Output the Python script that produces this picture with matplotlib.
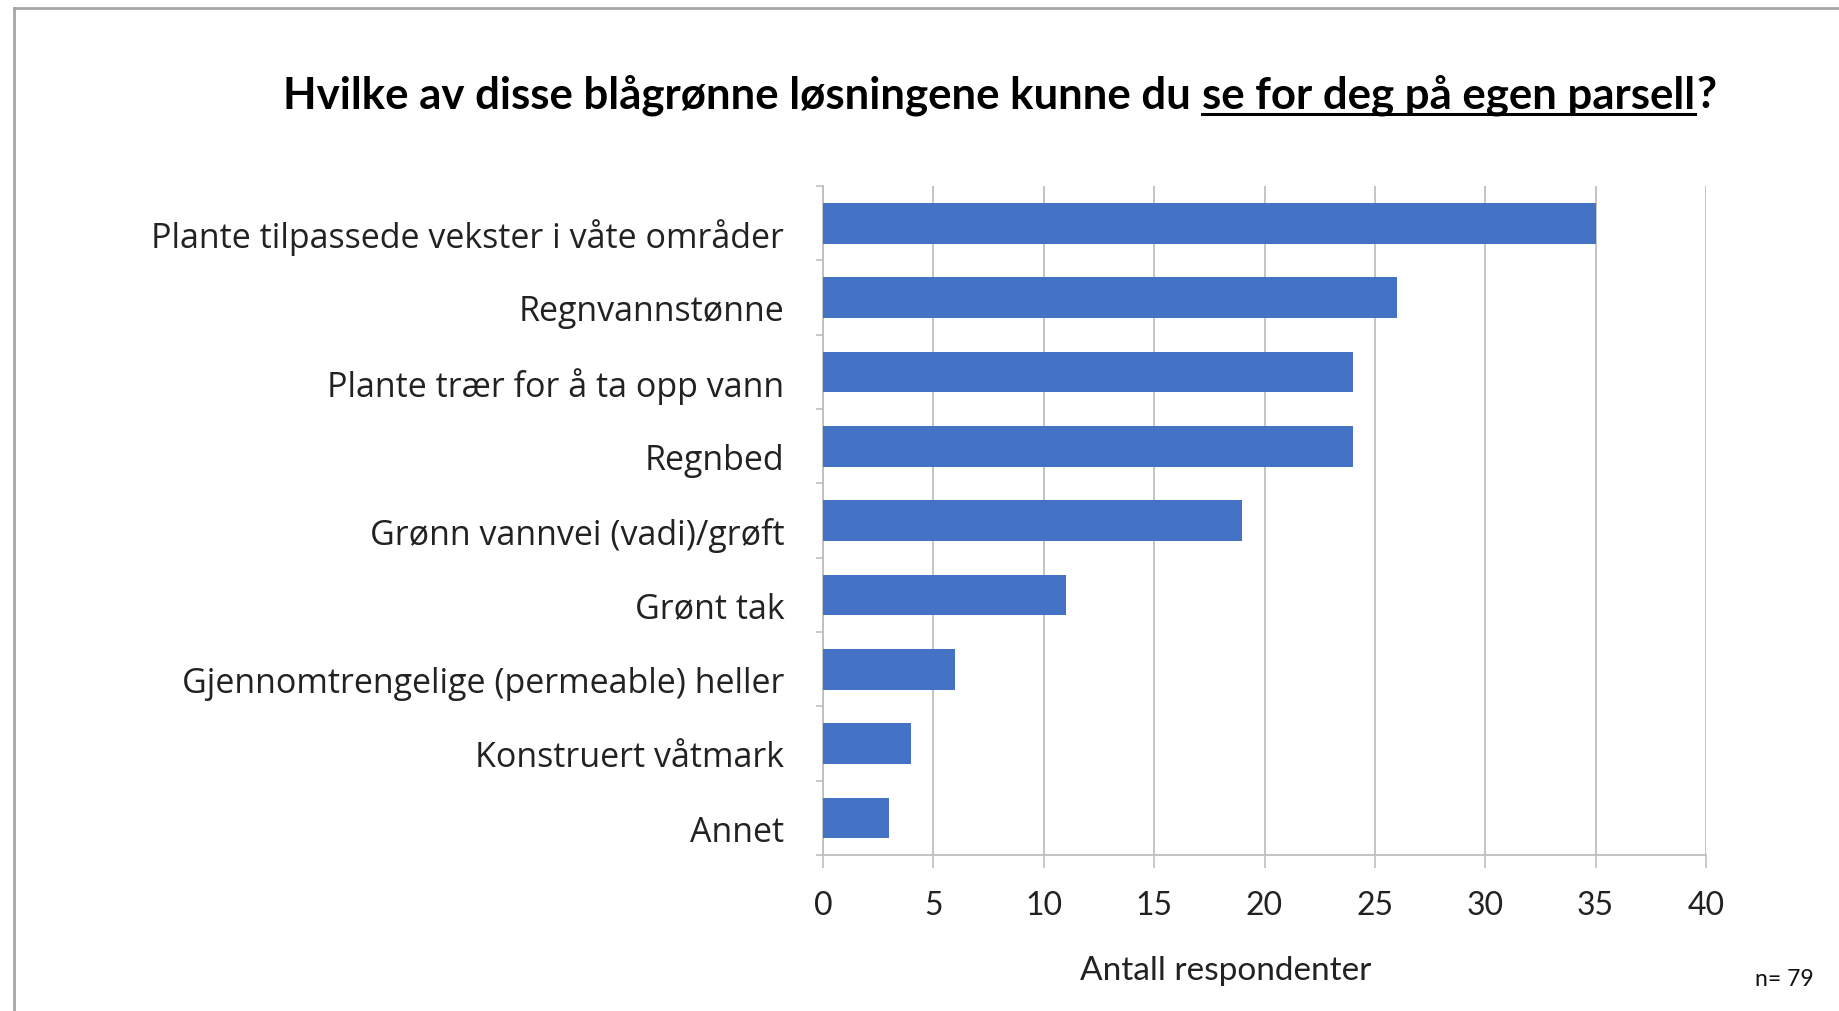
import numpy as np
import matplotlib.pyplot as plt
import matplotlib.transforms as mtransforms
from matplotlib.lines import Line2D

kategorier = ["Plante tilpassede vekster i våte områder", "Regnvannstønne",
              "Plante trær for å ta opp vann", "Regnbed",
              "Grønn vannvei (vadi)/grøft", "Grønt tak",
              "Gjennomtrengelige (permeable) heller", "Konstruert våtmark", "Annet"]
antall = [35, 26, 24, 24, 19, 11, 6, 4, 3]
x_ticks = [0, 5, 10, 15, 20, 25, 30, 35, 40]

tittel_a = "Hvilke av disse blågrønne løsningene kunne du"
tittel_b = "se for deg på egen parsell"
tittel_c = "?"

blaa = "#4472C4"
graa = "#BFBFBF"

fig = plt.figure(figsize=(18.4, 10.12), dpi=100)
ax = fig.add_axes([0.4473, 0.1540, 0.4799, 0.6611])

y = np.arange(len(kategorier))
ax.barh(y, antall, height=0.55, color=blaa, zorder=3)
ax.set_ylim(len(kategorier) - 0.5, -0.5)
ax.set_xlim(0, 40)

ax.set_yticks(y)
ax.set_yticklabels(kategorier, fontfamily="Open Sans", fontsize=24.5, color="#222222")
ax.set_yticks(np.arange(len(kategorier) + 1) - 0.5, minor=True)
ax.tick_params(axis="y", which="major", length=0, pad=28)
ax.tick_params(axis="y", which="minor", length=5, color=graa, width=1.2)
# etikettene sitter litt under midten av stolpene
flytt = mtransforms.ScaledTranslation(0, -7 / 72, fig.dpi_scale_trans)
for lab in ax.get_yticklabels():
    lab.set_transform(lab.get_transform() + flytt)

ax.set_xticks(x_ticks)
ax.set_xticklabels([str(v) for v in x_ticks], fontfamily="Lato", fontsize=23, color="#222222")
ax.tick_params(axis="x", length=9, color=graa, width=1.2, pad=16)
ax.xaxis.grid(True, color=graa, linewidth=1.3, zorder=0)

for s in ["top", "right"]:
    ax.spines[s].set_visible(False)
ax.spines["left"].set_color(graa)
ax.spines["bottom"].set_color(graa)
ax.spines["left"].set_linewidth(1.3)
ax.spines["bottom"].set_linewidth(1.3)

fig.text(0.6663, 0.041, "Antall respondenter", fontfamily="Lato", fontsize=24,
         ha="center", va="center", color="#222222")
fig.text(0.9855, 0.032, "n= 79", fontfamily="Lato", fontsize=16.5,
         ha="right", va="center", color="#111111")

# tittel med understreking i midtdelen
r = fig.canvas.get_renderer()
ty = 0.893
kw = dict(fontfamily="Lato", fontweight="bold", fontsize=31.5, va="baseline", color="black")
ta = fig.text(0, ty, tittel_a, **kw)
tb = fig.text(0, ty, tittel_b, **kw)
tc = fig.text(0, ty, tittel_c, **kw)
wa = ta.get_window_extent(r).width
wb = tb.get_window_extent(r).width
wc = tc.get_window_extent(r).width
gap = 11
total = wa + gap + wb + wc + 2
x0 = 0.5435 * 1840 - total / 2
ta.set_x(x0 / 1840)
tb.set_x((x0 + wa + gap) / 1840)
tc.set_x((x0 + wa + gap + wb + 2) / 1840)
uy = ty - 7 / 1012
fig.add_artist(Line2D([(x0 + wa + gap) / 1840, (x0 + wa + gap + wb) / 1840], [uy, uy],
                      color="black", linewidth=2.2))

# ramme oppe og til venstre
fig.add_artist(Line2D([14 / 1840, 1], [1 - 9 / 1012, 1 - 9 / 1012], color="#A6A6A6", linewidth=2))
fig.add_artist(Line2D([14 / 1840, 14 / 1840], [0, 1 - 9 / 1012], color="#A6A6A6", linewidth=2))

fig.savefig("out.png", dpi=100)
